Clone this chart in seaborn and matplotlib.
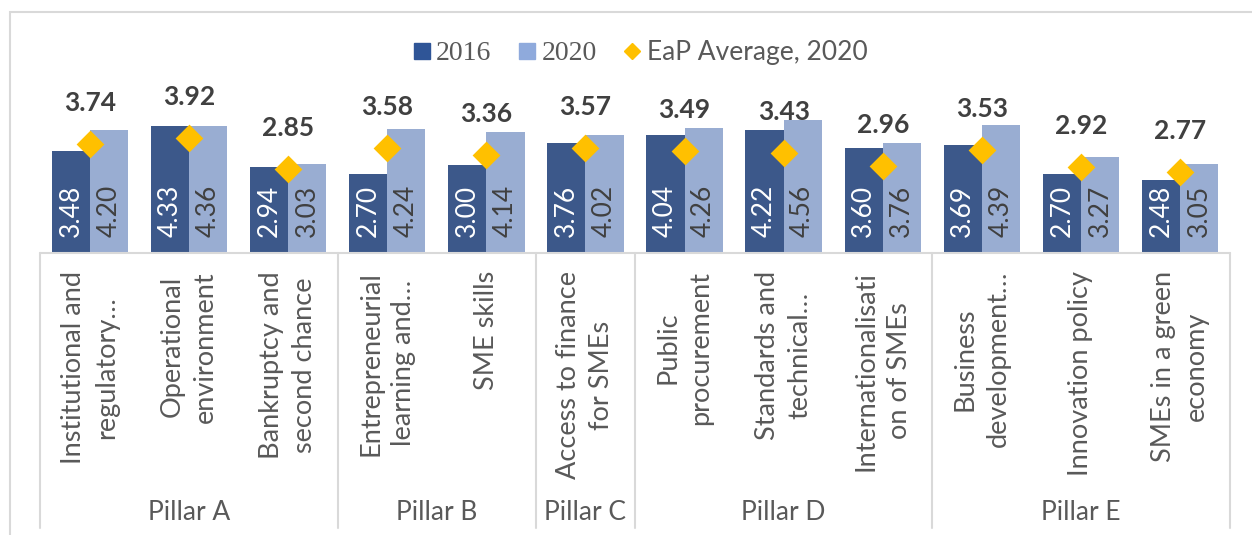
import pandas as pd
import numpy as np
import matplotlib.pyplot as plt
import seaborn as sns
from matplotlib.lines import Line2D
from matplotlib.patches import Rectangle

# данные с графика
categories = ['Institutional and\nregulatory…', 'Operational\nenvironment', 'Bankruptcy and\nsecond chance',
              'Entrepreneurial\nlearning and…', 'SME skills', 'Access to finance\nfor SMEs',
              'Public\nprocurement', 'Standards and\ntechnical…', 'Internationalisati\non of SMEs',
              'Business\ndevelopment…', 'Innovation policy', 'SMEs in a green\neconomy']
scores_2016 = [3.48, 4.33, 2.94, 2.70, 3.00, 3.76, 4.04, 4.22, 3.60, 3.69, 2.70, 2.48]
scores_2020 = [4.20, 4.36, 3.03, 4.24, 4.14, 4.02, 4.26, 4.56, 3.76, 4.39, 3.27, 3.05]
eap_avg_2020 = [3.74, 3.92, 2.85, 3.58, 3.36, 3.57, 3.49, 3.43, 2.96, 3.53, 2.92, 2.77]
pillars = ['Pillar A', 'Pillar B', 'Pillar C', 'Pillar D', 'Pillar E']
pillar_sizes = [3, 2, 1, 3, 3]

c2016 = '#2F5597'
c2020 = '#8FAADC'
cdiam = '#FFC000'
grey = '#595959'
dark = '#404040'
line_c = '#D9D9D9'

sns.set_style('white')
plt.rcParams['font.family'] = ['Lato', 'DejaVu Sans']

W, H = 1252, 535
fig = plt.figure(figsize=(W / 100, H / 100), dpi=100)

# рамка
fig.add_artist(Rectangle((10 / W, -0.1), 1.2, 1 - 12 / H + 0.1, transform=fig.transFigure,
                         fill=False, edgecolor=line_c, linewidth=1.5))

left, right = 40.5, 1229.5
base, top = 252, 78
ax = fig.add_axes([left / W, 1 - base / H, (right - left) / W, (base - top) / H])

df = pd.DataFrame({'cat': categories * 2,
                   'score': scores_2016 + scores_2020,
                   'year': ['2016'] * 12 + ['2020'] * 12})
sns.barplot(data=df, x='cat', y='score', hue='year', order=categories,
            palette=[c2016, c2020], width=0.77, linewidth=0, ax=ax, legend=False)

# подписи внутри столбцов
for container, col in zip(ax.containers, ['white', dark]):
    for bar in container:
        ax.annotate(f'{bar.get_height():.2f}', (bar.get_x() + bar.get_width() / 2, 0),
                    xytext=(0, 15), textcoords='offset pixels', rotation=90,
                    ha='center', va='bottom', color=col, fontsize=19)

x = np.arange(len(categories))
sns.scatterplot(x=x, y=eap_avg_2020, marker='D', s=200, color=cdiam, linewidth=0, ax=ax, zorder=5)
for xi, v in zip(x, eap_avg_2020):
    ax.annotate(f'{v:.2f}', (xi, v), xytext=(0, 41), textcoords='offset pixels',
                ha='center', va='center', color=dark, fontsize=19, fontweight='bold')

ax.set_xlim(-0.5, 11.5)
ax.set_ylim(0, (base - top) / 29)
ax.axis('off')

# таблица категорий внизу
tab_bottom = 528
tab = fig.add_axes([left / W, 1 - tab_bottom / H, (right - left) / W, (tab_bottom - base) / H])
tab.set_xlim(-0.5, 11.5)
tab.set_ylim(tab_bottom - base, 0)
tab.axis('off')
tab.plot([-0.5, 11.5], [1, 1], color=line_c, lw=1.5, clip_on=False)
bounds = np.concatenate([[0], np.cumsum(pillar_sizes)]) - 0.5
for b in bounds:
    tab.plot([b, b], [1, tab_bottom - base], color=line_c, lw=1.5, clip_on=False)
for xi, lab in zip(x, categories):
    tab.text(xi, 19, lab, rotation=90, ha='center', va='top', multialignment='center',
             color=grey, fontsize=19.5, linespacing=1.4)
for p, a, b in zip(pillars, bounds[:-1], bounds[1:]):
    tab.text((a + b) / 2, 260, p, ha='center', va='center', color=grey, fontsize=19)

# легенда
handles = [Line2D([], [], marker='s', ls='', color=c2016, markersize=11.5),
           Line2D([], [], marker='s', ls='', color=c2020, markersize=11.5),
           Line2D([], [], marker='D', ls='', color=cdiam, markersize=8)]
leg = fig.legend(handles, ['2016', '2020', 'EaP Average, 2020'], loc='center',
                 bbox_to_anchor=(640 / W, 1 - 53 / H), ncol=3, frameon=False,
                 fontsize=19, handlelength=0.7, handletextpad=0.2, columnspacing=1.0,
                 labelcolor=grey)
for t in leg.get_texts()[:2]:
    t.set_fontfamily('Liberation Serif')
    t.set_fontsize(20)

fig.savefig('out.png', dpi=100)
